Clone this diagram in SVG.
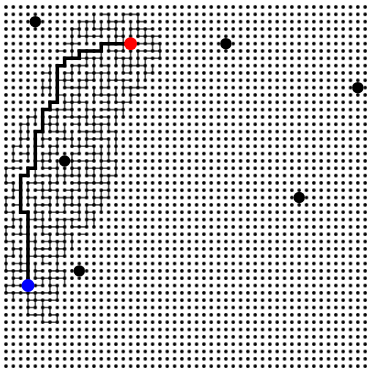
<svg xmlns="http://www.w3.org/2000/svg" width="367" height="369" viewBox="0 0 367 369">
<style>
.tree{fill:none;stroke:#555;stroke-width:1.6;stroke-linecap:butt}
.route{fill:none;stroke:#000;stroke-width:3.5;stroke-linejoin:miter;stroke-linecap:square}
.obs{fill:#000}
</style>
<defs>
<pattern id="dots" patternUnits="userSpaceOnUse" x="2.335" y="3.335" width="7.33" height="7.33">
<circle cx="3.665" cy="3.665" r="1.8" fill="#000"/>
</pattern>
</defs>
<rect width="367" height="369" fill="#fff"/>
<g id="connectors" transform="translate(6 7) scale(7.33)">
<path id="tree-h" class="tree" vector-effect="non-scaling-stroke" d="M13 1H14M16 1H18M10 2H12M14 2H16M18 2H19M9 3H10M12 3H15M17 3H20M10 4H13M15 4H16M18 4H21M8 5H10M17 5H21M7 6H8M14 6H16M18 6H21M10 7H13M15 7H17M19 7H21M9 8H11M13 8H14M16 8H19M5 9H6M8 9H9M11 9H14M16 9H17M19 9H20M7 10H9M10 10H12M14 10H17M5 11H6M8 11H11M13 11H14M16 11H19M7 12H8M9 12H10M12 12H15M17 12H18M8 13H11M13 13H14M15 13H17M6 14H9M11 14H12M13 14H16M3 15H4M6 15H7M8 15H11M12 15H14M2 16H3M5 16H7M9 16H10M11 16H14M6 17H8M10 17H13M14 17H15M2 18H3M5 18H6M7 18H9M11 18H14M1 19H2M4 19H5M6 19H7M9 19H12M2 20H3M5 20H7M9 20H10M11 20H13M1 21H2M4 21H6M9 21H12M13 21H15M0 22H2M5 22H7M9 22H10M11 22H14M4 23H6M7 23H10M11 23H12M13 23H15M0 24H1M3 24H5M6 24H7M9 24H14M1 25H2M4 25H7M8 25H10M11 25H12M13 25H14M0 26H1M3 26H4M5 26H6M7 26H9M10 26H11M12 26H14M1 27H2M4 27H6M8 27H10M11 27H13M0 28H1M4 28H5M6 28H8M9 28H10M11 28H12M1 29H2M3 29H5M7 29H10M11 29H12M0 30H1M4 30H8M9 30H11M1 31H3M5 31H6M7 31H9M10 31H11M0 32H1M3 32H4M5 32H8M1 33H2M4 33H6M7 33H8M0 34H1M3 34H8M1 35H3M5 35H6M0 36H3M4 36H5M6 36H8M1 37H2M4 37H8M0 38H3M4 38H5M6 38H7M0 39H7M3 40H7M3 41H4M5 41H6M3 42H5M6 42H7M5 43H7"/>
<path id="tree-v" class="tree" vector-effect="non-scaling-stroke" d="M0 22V24M0 26V28M0 30V32M0 34V36M0 38V39M1 19V21M1 24V26M1 28V30M1 32V34M1 36V38M1 39V40M2 16V19M2 29V31M2 33V36M3 15V18M3 19V21M3 24V27M3 38V42M4 14V16M4 18V20M4 22V24M4 26V29M4 31V34M4 35V37M4 39V41M5 10V12M5 17V19M5 20V22M5 24V26M5 28V31M5 34V35M5 37V38M5 40V43M6 8V12M6 15V17M6 19V21M6 23V25M6 26V29M6 31V33M6 36V39M6 41V42M7 14V17M7 18V20M7 21V24M7 25V27M7 29V31M7 32V36M7 38V40M7 42V43M8 9V11M8 12V14M8 16V18M8 22V24M8 26V28M8 29V34M8 36V38M9 3V7M9 8V10M9 12V15M9 17V19M9 20V23M9 25V27M9 29V30M9 31V33M10 2V4M10 8V9M10 10V13M10 15V17M10 18V20M10 22V25M10 26V29M11 2V5M11 6V8M11 9V11M11 13V16M11 17V19M11 21V23M11 24V26M11 27V30M12 1V3M12 7V10M12 11V13M12 14V17M12 19V21M12 22V24M12 25V27M12 28V30M13 2V4M13 6V8M13 9V12M13 16V18M13 19V22M13 22V24M13 25V28M14 1V3M14 4V6M14 8V11M14 12V14M14 15V17M14 18V19M14 19V21M14 23V26M15 2V5M15 6V8M15 9V10M15 11V13M15 14V16M15 17V20M15 21V23M16 1V2M16 3V6M16 7V9M16 10V12M16 13V15M17 2V4M17 6V9M17 11V13M18 1V4M18 6V8M18 9V11M19 3V5M19 7V10M20 4V6M20 8V9M21 5V7"/>
</g>
<rect id="grid" x="2.335" y="3.335" width="366.5" height="366.5" fill="url(#dots)"/>
<g id="route-layer" transform="translate(6 7) scale(7.33)">
<path id="route" class="route" vector-effect="non-scaling-stroke" d="M17 5H13V6H10V7H8V8H7V13H6V14H5V17H4V22H3V23H2V28H3V38"/>
</g>
<g transform="translate(6 7) scale(7.33)">
<g id="obstacle1"><circle class="obs" cx="4" cy="2" r="0.78"/></g>
<g id="obstacle2"><circle class="obs" cx="30" cy="5" r="0.78"/></g>
<g id="obstacle3"><circle class="obs" cx="48" cy="11" r="0.78"/></g>
<g id="obstacle4"><circle class="obs" cx="8" cy="21" r="0.78"/></g>
<g id="obstacle5"><circle class="obs" cx="40" cy="26" r="0.78"/></g>
<g id="obstacle6"><circle class="obs" cx="10" cy="36" r="0.78"/></g>
<g id="goal"><circle cx="17" cy="5" r="0.88" fill="#f00"/></g>
<g id="start"><circle cx="3" cy="38" r="0.88" fill="#00f"/></g>
</g>
</svg>
